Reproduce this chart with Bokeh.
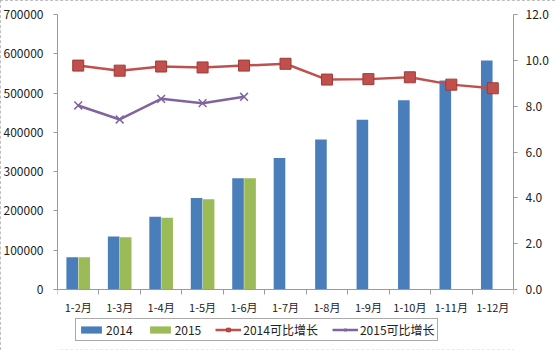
from bokeh.plotting import figure
from bokeh.models import (Range1d, LinearAxis, FixedTicker, Legend, LegendItem,
                          ColumnDataSource, NumeralTickFormatter)
from bokeh.embed import file_html
from bokeh.resources import INLINE

categories = ["1-2月", "1-3月", "1-4月", "1-5月", "1-6月", "1-7月",
              "1-8月", "1-9月", "1-10月", "1-11月", "1-12月"]
v2014 = [82000, 135000, 185000, 233000, 283000, 335000,
         382000, 432000, 482000, 532000, 583000]
v2015 = [82000, 133000, 182500, 230000, 283000]
g2014 = [9.77, 9.55, 9.73, 9.69, 9.77, 9.85, 9.16, 9.18, 9.26, 8.94, 8.78]
g2015 = [8.03, 7.42, 8.32, 8.13, 8.41]

FONT = "Noto Sans CJK SC"
BLUE = "#4A7EBB"
GREEN = "#9BBB59"
RED = "#C0504D"
PURPLE = "#8064A2"
AXIS = "#9A9A9A"

# layout: frame spans y 14..349 px; the value 0 sits at y=289
Y_MAX = 700000
P_MAX = 12
below_frac = 60 / 275

n = len(categories)
xc = [i + 0.5 for i in range(n)]
src14 = ColumnDataSource(dict(x=[c - 0.145 for c in xc], top=v2014))
src15 = ColumnDataSource(dict(x=[c + 0.145 for c in xc[:len(v2015)]], top=v2015))
l14 = ColumnDataSource(dict(x=xc, y=g2014))
l15 = ColumnDataSource(dict(x=xc[:len(g2015)], y=g2015))

p = figure(width=555, height=350, output_backend="svg", toolbar_location=None,
           x_range=Range1d(0, n), y_range=Range1d(-Y_MAX * below_frac, Y_MAX),
           min_border_left=57, min_border_right=42, min_border_top=14,
           min_border_bottom=1)
p.outline_line_color = None
p.xgrid.visible = False
p.ygrid.visible = False
p.extra_y_ranges = {"pct": Range1d(-P_MAX * below_frac, P_MAX)}
p.styles = {"outline": "1px dashed #AAAAAA", "outline-offset": "-1px"}

b1 = p.vbar(x="x", top="top", bottom=0, width=0.28, source=src14, fill_color=BLUE, line_color=None)
b2 = p.vbar(x="x", top="top", bottom=0, width=0.28, source=src15, fill_color=GREEN, line_color=None)
r1 = p.line("x", "y", source=l14, color=RED, line_width=2.5, y_range_name="pct")
m1 = p.scatter("x", "y", source=l14, marker="square", size=11, fill_color=RED,
               line_color="#A03A37", line_width=1, y_range_name="pct")
r2 = p.line("x", "y", source=l15, color=PURPLE, line_width=2.5, y_range_name="pct")
m2 = p.scatter("x", "y", source=l15, marker="x", size=11, line_color=PURPLE,
               line_width=1.5, y_range_name="pct")

# x axis, drawn at value 0
xa = p.xaxis[0]
xa.fixed_location = 0
xa.ticker = FixedTicker(ticks=xc, minor_ticks=list(range(n + 1)))
xa.major_label_overrides = {c: lab for c, lab in zip(xc, categories)}
xa.major_tick_out = 0
xa.major_tick_in = 0
xa.minor_tick_out = 5
xa.minor_tick_in = 0
xa.minor_tick_line_color = AXIS
xa.axis_line_color = AXIS
xa.major_label_standoff = 4

# left axis
ya = p.yaxis[0]
ya.bounds = (0, Y_MAX)
ya.ticker = FixedTicker(ticks=list(range(0, Y_MAX + 1, 100000)))
ya.formatter = NumeralTickFormatter(format="0")
ya.major_tick_out = 4
ya.major_tick_in = 0
ya.minor_tick_out = 0
ya.minor_tick_in = 0
ya.axis_line_color = AXIS
ya.major_tick_line_color = AXIS
ya.major_label_standoff = 10

# right axis
ra = LinearAxis(y_range_name="pct", ticker=FixedTicker(ticks=[0, 2, 4, 6, 8, 10, 12]),
                formatter=NumeralTickFormatter(format="0.0"), bounds=(0, P_MAX))
ra.major_tick_out = 4
ra.major_tick_in = 0
ra.minor_tick_out = 0
ra.minor_tick_in = 0
ra.axis_line_color = AXIS
ra.major_tick_line_color = AXIS
ra.major_label_standoff = 8
p.add_layout(ra, "right")

for ax in (xa, ya, ra):
    ax.major_label_text_font = FONT
    ax.major_label_text_font_size = "12px"
    ax.major_label_text_color = "#222222"
xa.major_label_text_font_size = "11px"

legend = Legend(items=[
    LegendItem(label="2014", renderers=[b1]),
    LegendItem(label="2015", renderers=[b2]),
    LegendItem(label="2014可比增长", renderers=[r1, m1]),
    LegendItem(label="2015可比增长", renderers=[r2, m2]),
], orientation="horizontal", location=(18, 8))
legend.label_text_font = FONT
legend.label_text_font_size = "12px"
legend.label_text_color = "#222222"
legend.glyph_width = 26
legend.glyph_height = 9
legend.label_standoff = 2
legend.spacing = 14
legend.padding = 2
legend.margin = 0
legend.label_height = 13
legend.border_line_color = "#555555"
legend.border_line_width = 1
legend.background_fill_alpha = 0
p.add_layout(legend, "center")

open("out.html", "w").write(file_html(p, INLINE))
